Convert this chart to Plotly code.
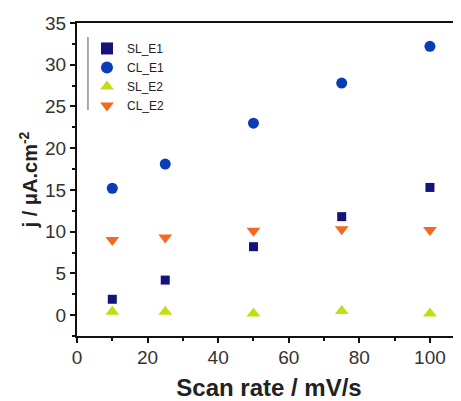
import plotly.graph_objects as go

# -----------------------------
# DATA
# -----------------------------

scan_rate = [10, 25, 50, 75, 100]

sl_e1 = [1.9, 4.2, 8.2, 11.8, 15.3]
cl_e1 = [15.2, 18.1, 23.0, 27.8, 32.2]
sl_e2 = [0.4, 0.4, 0.2, 0.5, 0.2]
cl_e2 = [9.0, 9.3, 10.1, 10.3, 10.2]

series = [
    ("SL_E1", sl_e1, "square", "#13137a", 9),
    ("CL_E1", cl_e1, "circle", "#0a3cb8", 11),
    ("SL_E2", sl_e2, "triangle-up", "#c3dd10", 12),
    ("CL_E2", cl_e2, "triangle-down", "#f26a22", 12),
]

FONT = "Liberation Sans, Arial, sans-serif"

fig = go.Figure()

for name, vals, sym, col, size in series:
    fig.add_trace(go.Scatter(
        x=scan_rate,
        y=vals,
        mode="markers",
        name=name,
        marker=dict(symbol=sym, color=col, size=size, line=dict(width=0)),
    ))

# thin vertical bar at the left of the legend
fig.add_shape(
    type="line", xref="paper", yref="paper",
    x0=0.0286, x1=0.0286, y0=0.722, y1=0.955,
    line=dict(color="#555555", width=1),
)

axis_common = dict(
    showline=True,
    linecolor="#111111",
    linewidth=2,
    ticks="outside",
    ticklen=5,
    tickwidth=1.5,
    tickcolor="#111111",
    showgrid=False,
    zeroline=False,
    automargin=False,
    tickfont=dict(family=FONT, size=19, color="#333333"),
)

# the page body has an 8px margin, so the figure is 8px smaller than the window
fig.update_layout(
    width=453,
    height=393,
    margin=dict(l=69, r=0, t=15, b=65),
    paper_bgcolor="white",
    plot_bgcolor="white",
    showlegend=True,
    legend=dict(
        x=0.026, y=0.965, xanchor="left", yanchor="top",
        font=dict(family=FONT, size=12, color="#222222"),
        bgcolor="rgba(0,0,0,0)",
        itemsizing="constant",
        tracegroupgap=0,
    ),
    xaxis=dict(
        range=[0, 108.8],
        tickvals=[0, 20, 40, 60, 80, 100],
        minor=dict(dtick=10, ticklen=3, tickcolor="#111111", ticks="outside"),
        mirror=True,
        ticklabelstandoff=-2,
        title=dict(text="<b>Scan rate / mV/s</b>",
                   font=dict(family=FONT, size=24, color="#222222"), standoff=16),
        **axis_common,
    ),
    yaxis=dict(
        range=[-2.5, 35],
        tickvals=[0, 5, 10, 15, 20, 25, 30, 35],
        minor=dict(dtick=2.5, tick0=0, ticklen=3, tickcolor="#111111", ticks="outside"),
        title=dict(text="<b>j / μA.cm<sup>-2</sup></b>",
                   font=dict(family=FONT, size=20, color="#222222"), standoff=2),
        **axis_common,
    ),
)

fig.write_html("out.html")
